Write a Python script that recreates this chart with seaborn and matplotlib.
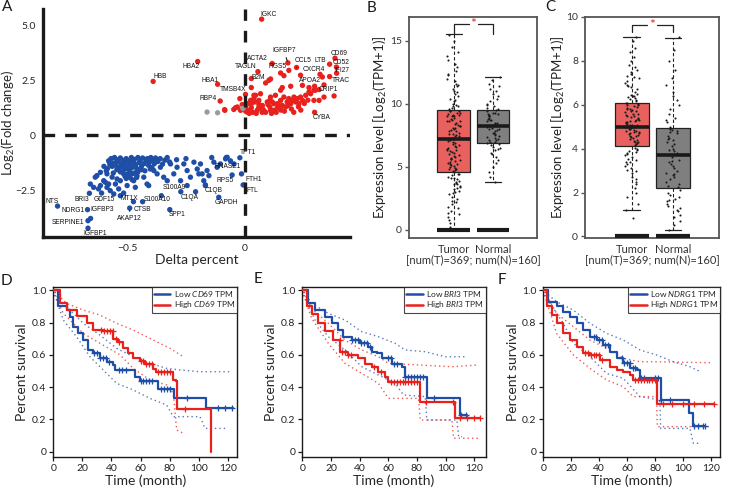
import numpy as np
import pandas as pd
import matplotlib
matplotlib.use("Agg")
import matplotlib.pyplot as plt
from matplotlib.lines import Line2D
import seaborn as sns

# ---------------- Panel A data ----------------
up_genes = ["IGKC", "HBB", "HBA2", "HBA1", "TMSB4X", "RBP4", "TAGLN", "ACTA2", "B2M", "IGFBP7", "RGS5",
            "CCL5", "CXCR4", "LTB", "CD69", "CD52", "IFI27", "TRAC", "APOA2", "CRIP1", "CYBA"]
up_x = [0.073, -0.39, -0.20, -0.115, 0.004, -0.104, 0.057, 0.118, 0.111, 0.185, 0.189,
        0.222, 0.322, 0.363, 0.386, 0.392, 0.393, 0.363, 0.299, 0.302, 0.299]
up_y = [5.27, 2.45, 3.35, 2.32, 1.86, 1.56, 2.89, 3.26, 2.56, 3.29, 2.95,
        3.08, 2.77, 3.23, 3.50, 3.10, 2.82, 2.67, 2.23, 2.05, 1.05]

down_genes = ["NTS", "BRI3", "GDF15", "NDRG1", "IGFBP3", "SERPINE1", "IGFBP1", "MT1X", "CTSB", "AKAP12",
              "S100A10", "S100A9", "SPP1", "C1QA", "C1QB", "GAPDH", "RNASE1", "RPS5", "FTH1", "FTL", "TPT1"]
down_x = [-0.798, -0.662, -0.610, -0.670, -0.657, -0.668, -0.668, -0.516, -0.474, -0.490,
          -0.435, -0.355, -0.319, -0.272, -0.167, -0.110, -0.078, -0.053, -0.013, -0.006, -0.020]
down_y = [-3.20, -2.62, -2.61, -3.36, -3.76, -3.86, -4.20, -2.61, -3.00, -3.29,
          -3.00, -2.73, -3.36, -2.55, -2.24, -2.80, -1.00, -1.79, -1.74, -2.24, -1.01]

red_x = [-0.038, 0.004, 0.018, 0.029, 0.040, 0.061, 0.076, 0.082, 0.097, 0.108, 0.118, 0.125, 0.140, 0.147,
         0.154, 0.161, 0.168, 0.175, 0.182, 0.189, 0.197, 0.204, 0.211, 0.218, 0.225, 0.232, 0.239, 0.247,
         0.261, 0.275, 0.282, 0.296, 0.318, 0.339, 0.382, 0.154, 0.168, 0.090, 0.104, 0.029, 0.154, 0.161,
         0.197, 0.239, 0.247, 0.275, 0.332, 0.339, 0.318, 0.047, 0.068, 0.111, 0.132, 0.296, 0.029, -0.085,
         -0.046, -0.020, -0.003, 0.011, 0.014, 0.029, 0.043, 0.054, 0.061, 0.076, 0.111, 0.125, 0.040, 0.108,
         -0.084, -0.031, -0.017, 0.020, 0.026, 0.050, 0.090, 0.135, 0.170, 0.200, 0.210, 0.060, 0.100, 0.140,
         0.185, 0.230, 0.255, 0.270, 0.005, -0.010, 0.035, 0.075, 0.115, 0.155, 0.240]
red_y = [1.26, 1.29, 1.14, 1.44, 1.67, 1.59, 1.36, 1.14, 1.52, 1.29, 1.52, 1.14, 1.44, 1.36,
         1.59, 1.36, 1.74, 1.29, 1.52, 1.67, 1.44, 1.59, 1.74, 1.52, 1.67, 1.44, 1.74, 1.59,
         1.82, 1.97, 1.89, 2.05, 1.59, 1.74, 1.79, 2.83, 2.71, 2.38, 2.50, 2.17, 2.05, 2.17,
         2.23, 2.73, 2.27, 2.17, 2.65, 2.29, 2.08, 1.82, 1.89, 1.74, 1.82, 1.59, 2.58, 1.17,
         1.18, 1.67, 1.26, 1.06, 1.44, 1.26, 1.52, 1.14, 1.41, 1.21, 1.14, 1.44, 1.82, 1.59,
         1.14, 1.29, 1.14, 1.00, 1.59, 1.00, 1.05, 1.05, 1.10, 1.20, 1.05, 1.25, 1.40, 1.25,
         1.35, 1.30, 1.45, 1.60, 1.10, 1.40, 1.05, 1.05, 1.00, 1.15, 1.15]

blue_x = [-0.630, -0.637, -0.601, -0.615, -0.594, -0.587, -0.573, -0.580, -0.551, -0.544, -0.530, -0.537,
          -0.501, -0.516, -0.473, -0.466, -0.416, -0.409, -0.387, -0.373, -0.359, -0.345, -0.330, -0.316,
          -0.302, -0.288, -0.259, -0.245, -0.231, -0.216, -0.202, -0.188, -0.181, -0.174, -0.160, -0.152,
          -0.131, -0.117, -0.103, -0.081, -0.074, -0.045, -0.658, -0.644, -0.623, -0.480, -0.459, -0.430,
          -0.402, -0.273, -0.245, -0.167, -0.195, -0.615, -0.587, -0.565, -0.558, -0.530,
          -0.580, -0.570, -0.560, -0.555, -0.550, -0.545, -0.540, -0.535, -0.530, -0.525, -0.520, -0.515,
          -0.510, -0.505, -0.500, -0.495, -0.490, -0.487, -0.483, -0.480, -0.475, -0.470, -0.465, -0.460,
          -0.455, -0.450, -0.445, -0.440, -0.435, -0.430, -0.425, -0.420, -0.415, -0.410, -0.405, -0.400,
          -0.395, -0.390, -0.385, -0.380, -0.370, -0.360, -0.350, -0.340, -0.330, -0.320, -0.530, -0.545,
          -0.560, -0.500, -0.510, -0.470, -0.490, -0.520, -0.500, -0.565, -0.575, -0.585, -0.600, -0.590,
          -0.480, -0.505, -0.460, -0.440, -0.455, -0.209, -0.250, -0.290, -0.140, -0.060]
blue_y = [-1.82, -1.89, -2.05, -2.27, -2.12, -2.35, -2.50, -2.20, -2.20, -1.97, -2.05, -2.42,
          -2.27, -1.74, -2.05, -2.35, -2.20, -2.27, -1.59, -1.74, -1.44, -1.89, -2.05, -1.29,
          -1.74, -1.44, -1.29, -1.59, -1.89, -1.21, -1.52, -1.29, -1.74, -2.05, -1.59, -1.82,
          -1.21, -1.44, -1.29, -1.06, -0.99, -1.29, -2.20, -2.35, -2.42, -1.74, -1.82, -1.89,
          -1.52, -2.05, -2.27, -2.27, -1.74, -1.67, -1.74, -1.89, -2.65, -2.73,
          -1.15, -1.05, -1.25, -1.00, -1.35, -1.10, -1.20, -1.45, -1.02, -1.30, -1.12, -1.55,
          -1.22, -1.05, -1.38, -1.15, -1.60, -1.28, -1.00, -1.45, -1.18, -1.08, -1.32, -1.50,
          -1.00, -1.22, -1.12, -1.40, -1.02, -1.28, -1.60, -1.15, -1.05, -1.35, -1.20, -1.00,
          -1.45, -1.10, -1.28, -1.02, -1.18, -1.05, -1.30, -1.12, -1.00, -1.20, -1.65, -1.55,
          -1.70, -1.75, -1.85, -1.70, -1.90, -1.42, -1.50, -1.40, -1.30, -1.50, -1.40, -1.60,
          -2.00, -1.95, -1.90, -1.55, -1.65, -2.55, -1.05, -1.10, -1.00, -1.15]

grey_x = [-0.160, -0.115, -0.007]
grey_y = [1.06, 1.03, 1.23]

# label placement (pixel offsets, alignment) - styling only
up_lab = {"IGKC": (-1, 5, "left"), "HBB": (0, 5, "left"), "HBA2": (2, -5, "right"), "HBA1": (1, 4, "right"),
          "TMSB4X": (1, 5, "right"), "RBP4": (-3, 3, "right"), "TAGLN": (-1, 5, "right"),
          "ACTA2": (-4, 5, "right"), "B2M": (-6, 1, "right"), "IGFBP7": (-4, 12, "center"),
          "RGS5": (-2, 4, "right"), "CCL5": (-2, 7, "left"), "CXCR4": (-6, 5, "center"),
          "LTB": (-3, 4, "right"), "CD69": (-4, 5, "left"), "CD52": (-4, 5, "left"), "IFI27": (-2, 3, "left"),
          "TRAC": (2, -4, "left"), "APOA2": (-5, 6, "center"), "CRIP1": (3, 1, "left"), "CYBA": (-2, -5, "left")}
down_lab = {"NTS": (1, 5, "right"), "BRI3": (0, -6, "right"), "GDF15": (3, -6, "center"),
            "NDRG1": (-3, -1, "right"), "IGFBP3": (0, 9, "left"), "SERPINE1": (-4, -2, "right"),
            "IGFBP1": (-5, -5, "left"), "MT1X": (-3, -5, "left"), "CTSB": (0, -8, "left"),
            "AKAP12": (0, -10, "center"), "S100A10": (1, 2, "left"), "S100A9": (1, 8, "left"),
            "SPP1": (-1, -5, "left"), "C1QA": (0, -6, "left"), "C1QB": (-1, -6, "left"),
            "GAPDH": (-4, -5, "left"), "RNASE1": (1, -9, "center"), "RPS5": (2, -6, "right"),
            "FTH1": (4, -6, "left"), "FTL": (3, -6, "left"), "TPT1": (0, 5, "left")}
leaders = {"IGFBP7", "CCL5", "AKAP12"}

# ---------------- Panels B, C data ----------------
groups = ["Tumor", "Normal"]
b_med = [7.20, 8.24]; b_q1 = [4.55, 6.86]; b_q3 = [9.50, 9.47]; b_lo = [0.0, 3.80]; b_hi = [15.56, 12.13]
c_med = [5.01, 3.70]; c_q1 = [4.10, 2.21]; c_q3 = [6.10, 4.94]; c_lo = [1.21, 0.29]; c_hi = [9.08, 9.05]

b_tumor = [0.2, 0.5, 0.8, 1.0, 1.3, 1.5, 1.8, 2.0, 2.2, 2.4, 2.6, 2.8, 3.0, 3.1, 3.3, 3.4, 3.6, 3.7, 3.8, 3.9,
           4.0, 4.1, 4.2, 4.3, 4.4, 4.6, 4.7, 4.8, 4.9, 5.0, 5.1, 5.2, 5.3, 5.4, 5.5, 5.6, 5.7, 5.8, 5.9, 6.0,
           6.1, 6.2, 6.3, 6.4, 6.5, 6.6, 6.7, 6.8, 6.9, 7.1, 7.3, 7.4, 7.5, 7.6, 7.7, 7.8, 7.9, 8.0, 8.1, 8.2,
           8.3, 8.4, 8.5, 8.6, 8.7, 8.8, 8.9, 9.0, 9.1, 9.2, 9.3, 9.4, 9.4, 9.3, 9.1, 9.6, 9.7, 9.8, 9.9, 10.0,
           10.2, 10.4, 10.6, 10.8, 11.0, 11.2, 11.4, 11.6, 11.8, 12.0, 12.3, 12.6, 12.9, 13.2, 13.5, 13.8,
           14.1, 14.5, 15.0, 15.5, 5.2, 5.6, 6.3, 7.0, 7.6, 8.1, 8.6, 9.0, 4.8, 3.5,
           4.65, 5.05, 5.45, 5.85, 6.25, 6.65, 7.05, 7.45, 7.85, 8.25, 8.65, 9.05, 9.45, 9.85, 10.3, 10.9,
           2.9, 3.2, 3.6, 4.1, 4.45, 1.2, 1.7, 2.3, 11.5, 12.4]
b_normal = [3.8, 4.2, 4.6, 5.0, 5.3, 5.5, 5.8, 6.0, 6.1, 6.3, 6.4, 6.5, 6.6, 6.7, 6.8, 6.9, 7.0, 7.1, 7.2, 7.3,
            7.4, 7.5, 7.6, 7.7, 7.8, 7.9, 8.0, 8.0, 8.1, 8.2, 8.3, 8.4, 8.5, 8.6, 8.7, 8.8, 8.9, 9.0, 9.0, 9.1,
            9.2, 9.3, 9.3, 9.4, 9.5, 9.6, 9.7, 9.8, 9.9, 10.0, 10.2, 10.4, 10.6, 10.8, 11.0, 11.2, 11.4, 11.6,
            11.9, 12.1, 7.15, 7.65, 8.15, 8.45, 8.75, 9.15, 6.95, 7.35]
c_tumor = [0.85, 1.2, 1.5, 1.8, 2.0, 2.2, 2.4, 2.6, 2.7, 2.9, 3.0, 3.1, 3.2, 3.3, 3.4, 3.5, 3.6, 3.7, 3.75, 3.8,
           3.85, 3.9, 3.95, 4.0, 4.05, 4.15, 4.2, 4.25, 4.3, 4.35, 4.4, 4.45, 4.5, 4.55, 4.6, 4.65, 4.7, 4.72,
           4.75, 4.8, 4.82, 4.85, 4.88, 4.9, 4.92, 4.95, 4.97, 5.0, 5.02, 5.04, 5.07, 5.1, 5.13, 5.16, 5.2,
           5.24, 5.28, 5.32, 5.36, 5.4, 5.45, 5.5, 5.55, 5.6, 5.65, 5.7, 5.75, 5.8, 5.85, 5.9, 5.95, 6.0, 6.03,
           6.06, 6.09, 6.15, 6.2, 6.25, 6.3, 6.35, 6.4, 6.5, 6.6, 6.7, 6.8, 6.9, 7.0, 7.1, 7.2, 7.3, 7.4, 7.5,
           7.6, 7.8, 8.0, 8.2, 8.4, 8.6, 8.9, 9.1, 5.3, 5.8, 4.6, 5.1, 6.4, 3.4,
           4.32, 4.62, 4.98, 5.22, 5.48, 5.72, 5.98, 6.45, 6.85, 7.25, 7.7, 3.55, 3.05, 2.5, 4.78, 5.58]
c_normal = [0.3, 0.5, 0.7, 0.9, 1.0, 1.2, 1.3, 1.4, 1.5, 1.6, 1.7, 1.8, 1.9, 2.0, 2.1, 2.3, 2.4, 2.5, 2.6, 2.7,
            2.8, 2.9, 3.0, 3.1, 3.2, 3.3, 3.4, 3.5, 3.6, 3.7, 3.8, 3.9, 4.0, 4.1, 4.2, 4.3, 4.4, 4.5, 4.6, 4.7,
            4.75, 4.8, 4.85, 4.9, 4.95, 5.0, 5.2, 5.4, 5.6, 5.8, 6.0, 6.2, 6.4, 6.6, 6.9, 7.2, 7.6, 8.0, 8.5, 9.1,
            2.25, 2.85, 3.45, 3.95, 4.45, 1.15, 1.65, 5.3]

# ---------------- Panels D, E, F data (Kaplan-Meier) ----------------
D_low_t = [0, 3.4, 9.2, 11.5, 13.8, 17.2, 20.6, 24, 27.5, 32, 36.7, 41.3, 42.4, 56.2, 59.6, 72.2, 83, 104.8, 123.9]
D_low_s = [1.0, 0.90, 0.88, 0.835, 0.775, 0.735, 0.69, 0.63, 0.61, 0.58, 0.555, 0.535, 0.505, 0.465, 0.435, 0.39, 0.33, 0.268, 0.268]
D_high_t = [0, 4.6, 9.2, 16, 23, 27.5, 34.4, 41.3, 44.7, 48.2, 51.6, 55, 59.6, 63, 68.8, 71, 82.6, 84.4, 84.9, 108.3]
D_high_s = [1.0, 0.92, 0.88, 0.84, 0.80, 0.755, 0.745, 0.70, 0.68, 0.64, 0.61, 0.58, 0.56, 0.54, 0.515, 0.495, 0.445, 0.435, 0.262, 0.0]
D_low_cens = [28, 30, 32, 34, 36, 38, 45, 47, 50, 60, 62, 64, 66, 68, 74, 76, 78, 80, 91.7, 113.5, 118, 122.7]
D_high_cens = [33, 35, 37, 39, 41, 43, 45, 60, 62, 64, 66, 68, 72, 74, 76, 78, 80, 90.6]
D_low_up_t = [1, 4.6, 13.8, 20.6, 32.1, 43.6, 55, 66.5, 78, 87.2, 100.9, 121.6]
D_low_up_s = [0.99, 0.93, 0.857, 0.795, 0.722, 0.64, 0.588, 0.547, 0.516, 0.506, 0.495, 0.495]
D_low_lo_t = [1, 6.9, 16, 25.2, 32.1, 43.6, 55, 66.5, 78, 82.6, 100.9, 104.4, 119.3]
D_low_lo_s = [0.97, 0.815, 0.712, 0.588, 0.526, 0.423, 0.382, 0.33, 0.289, 0.217, 0.217, 0.144, 0.144]
D_high_up_t = [1, 9.2, 20.6, 32.1, 43.6, 55, 66.5, 80.3, 89.4]
D_high_up_s = [0.99, 0.918, 0.877, 0.846, 0.795, 0.753, 0.702, 0.64, 0.588]
D_high_lo_t = [1, 6.9, 20.6, 32.1, 45.9, 55, 66.5, 78, 82.6, 84.9, 89.4]
D_high_lo_s = [0.97, 0.857, 0.733, 0.671, 0.60, 0.516, 0.444, 0.413, 0.361, 0.134, 0.114]

E_low_t = [0, 4.2, 8.9, 15.9, 20.5, 25.2, 28.7, 34.5, 40.3, 46.2, 48.5, 52, 55.5, 62.5, 69.5, 71.8, 86.9, 110.3, 115]
E_low_s = [1.0, 0.92, 0.88, 0.835, 0.795, 0.755, 0.71, 0.69, 0.67, 0.65, 0.62, 0.61, 0.58, 0.545, 0.525, 0.465, 0.33, 0.225, 0.215]
E_high_t = [0, 3, 6.5, 11.2, 15.9, 21.7, 26.3, 32, 39, 43.8, 48.5, 53.1, 57.8, 60.1, 82.3, 106.3, 124.2]
E_high_s = [1.0, 0.90, 0.855, 0.795, 0.745, 0.69, 0.62, 0.60, 0.58, 0.545, 0.525, 0.495, 0.465, 0.433, 0.31, 0.206, 0.206]
E_low_cens = [35, 37, 39, 41, 43, 45, 47, 60, 62, 64, 66, 72, 74, 76, 78, 80, 82, 84, 92, 111, 114]
E_high_cens = [26, 28, 30, 32, 34, 50, 55, 62, 64, 66, 68, 70, 72, 74, 76, 78, 80, 86, 105, 110, 115, 120, 124]
E_low_up_t = [1, 6.5, 18.2, 29.8, 41.5, 53.1, 64.8, 71.8, 85.8, 99.8, 113.8]
E_low_up_s = [0.99, 0.918, 0.857, 0.815, 0.743, 0.712, 0.671, 0.63, 0.619, 0.588, 0.588]
E_low_lo_t = [1, 8.9, 18.2, 29.8, 41.5, 53.1, 64.8, 70.6, 85.8, 86.9, 107.9, 109.1, 111.4]
E_low_lo_s = [0.97, 0.815, 0.712, 0.63, 0.526, 0.475, 0.423, 0.351, 0.341, 0.196, 0.196, 0.093, 0.093]
E_high_up_t = [1, 6.5, 18.2, 29.8, 41.5, 53.1, 60.1, 81.1, 104.4, 123]
E_high_up_s = [0.99, 0.887, 0.795, 0.691, 0.63, 0.588, 0.547, 0.537, 0.526, 0.537]
E_high_lo_t = [1, 6.5, 18.2, 29.8, 41.5, 53.1, 60.1, 81.1, 82.3, 104.4, 105.6, 123]
E_high_lo_s = [0.97, 0.826, 0.671, 0.547, 0.485, 0.423, 0.33, 0.33, 0.196, 0.196, 0.083, 0.083]

F_low_t = [0, 3.6, 9.5, 14.3, 19.1, 23.9, 28.6, 33.4, 38.2, 43, 47.7, 52.5, 57.3, 62.1, 66.8, 69.2, 84, 104.3, 107.4, 115.8]
F_low_s = [1.0, 0.93, 0.90, 0.867, 0.836, 0.795, 0.753, 0.712, 0.691, 0.66, 0.619, 0.578, 0.547, 0.516, 0.506, 0.454, 0.32, 0.237, 0.159, 0.159]
F_high_t = [0, 2.4, 6, 9.5, 14.3, 19.1, 23.9, 28.6, 33.4, 40.6, 47.7, 52.5, 57.3, 62.1, 64.4, 81.6, 122.2]
F_high_s = [1.0, 0.90, 0.846, 0.795, 0.733, 0.691, 0.65, 0.609, 0.599, 0.568, 0.526, 0.506, 0.495, 0.475, 0.444, 0.293, 0.293]
F_low_cens = [36, 38, 40, 42, 44, 46, 56, 58, 60, 62, 64, 66, 70, 72, 80, 82, 84, 91, 108, 111, 114, 115.8]
F_high_cens = [30, 32, 34, 36, 38, 40, 42, 66, 68, 70, 72, 74, 76, 78, 80, 86, 92, 100, 108, 115, 122]
F_low_up_t = [1, 9.5, 21.5, 33.4, 45.3, 57.3, 69.2, 81.1, 93.1, 105, 112.6]
F_low_up_s = [0.99, 0.929, 0.877, 0.795, 0.733, 0.691, 0.63, 0.599, 0.557, 0.526, 0.495]
F_low_lo_t = [1, 14.3, 21.5, 33.4, 45.3, 57.3, 69.2, 83.5, 84, 105, 107.4, 112.2]
F_low_lo_s = [0.97, 0.795, 0.671, 0.588, 0.485, 0.454, 0.341, 0.32, 0.144, 0.144, 0.052, 0.052]
F_high_up_t = [1, 9.5, 21.5, 33.4, 45.3, 57.3, 69.2, 81.1, 119.3]
F_high_up_s = [0.99, 0.857, 0.774, 0.691, 0.64, 0.578, 0.557, 0.557, 0.551]
F_high_lo_t = [1, 9.5, 21.5, 33.4, 45.3, 57.3, 64.4, 81.1, 81.6, 119.3]
F_high_lo_s = [0.97, 0.733, 0.599, 0.516, 0.444, 0.402, 0.341, 0.341, 0.155, 0.155]

# ---------------- styling ----------------
RED = "#e8211d"
BLUE = "#1f4ea6"
GREY = "#9c9c9c"
TUMOR_FILL = "#e8615f"
NORMAL_FILL = "#7f7f7f"

sns.set_theme(style="white")
plt.rcParams["font.family"] = ["Lato", "DejaVu Sans"]
plt.rcParams["mathtext.fontset"] = "custom"
plt.rcParams["mathtext.rm"] = "Lato"
plt.rcParams["mathtext.it"] = "Lato:italic"
plt.rcParams["axes.unicode_minus"] = True

W, H = 735, 488
fig = plt.figure(figsize=(W / 100, H / 100), dpi=100)


def fax(l, t, r, b):
    return fig.add_axes([l / W, 1 - b / H, (r - l) / W, (b - t) / H])


# ---------------- Panel A ----------------
axA = fax(43, 9, 350, 237)
dfA = pd.concat([
    pd.DataFrame({"x": up_x + red_x, "y": up_y + red_y, "grp": "up"}),
    pd.DataFrame({"x": down_x + blue_x, "y": down_y + blue_y, "grp": "down"}),
    pd.DataFrame({"x": grey_x, "y": grey_y, "grp": "ns"}),
], ignore_index=True)
sns.scatterplot(data=dfA, x="x", y="y", hue="grp", palette={"up": RED, "down": BLUE, "ns": GREY},
                s=15, linewidth=0, legend=False, ax=axA, zorder=3)
axA.axhline(0, color="k", lw=2.4, ls=(0, (3.5, 3)), zorder=4)
axA.axvline(0, color="k", lw=2.4, ls=(0, (3.5, 3)), zorder=4)

for genes, xs, ys, labs in [(up_genes, up_x, up_y, up_lab), (down_genes, down_x, down_y, down_lab)]:
    for g, x, y in zip(genes, xs, ys):
        dx, dy, ha = labs[g]
        kw = {}
        if g in leaders:
            kw["arrowprops"] = dict(arrowstyle="-", lw=0.8, color="k", shrinkA=0, shrinkB=1.5)
        axA.annotate(g, (x, y), xytext=(dx, dy), textcoords="offset pixels", ha=ha, va="center",
                     fontsize=4.8, family=["Liberation Sans"], color="#111", zorder=5, **kw)

axA.set_xlim(-0.86, 0.45)
axA.set_ylim(-4.6, 5.73)
axA.set_xticks([-0.5, 0])
axA.set_xticklabels(["\u22120.5", "0"])
axA.set_yticks([-2.5, 0, 2.5, 5.0])
axA.set_yticklabels(["\u22122.5", "0", "2.5", "5.0"])
for s in ["top", "right"]:
    axA.spines[s].set_visible(False)
for s in ["left", "bottom"]:
    axA.spines[s].set_linewidth(2.4)
    axA.spines[s].set_color("k")
axA.tick_params(direction="inout", length=6, width=2, labelsize=7.5, pad=2, color="k")
axA.set_xlabel("Delta percent", fontsize=10, labelpad=1)
axA.set_ylabel(r"Log$_2$(Fold change)", fontsize=9.5)
axA.yaxis.set_label_coords(-0.085, 0.5)


# ---------------- Panels B, C ----------------
def box_panel(ax, med, q1, q3, lo, hi, tumor_vals, normal_vals, yticks, ylim, top, leg, ylab_x):
    df = pd.concat([pd.DataFrame({"grp": "Tumor", "val": tumor_vals}),
                    pd.DataFrame({"grp": "Normal", "val": normal_vals})], ignore_index=True)
    stats = [dict(med=med[i], q1=q1[i], q3=q3[i], whislo=lo[i], whishi=hi[i], label=groups[i]) for i in range(2)]
    res = ax.bxp(stats, positions=[0, 1], widths=0.82, patch_artist=True, showfliers=False,
                 manage_ticks=False, capwidths=0.4,
                 boxprops=dict(edgecolor="#222", lw=0.9),
                 whiskerprops=dict(ls=(0, (3, 2)), lw=0.8, color="#222"),
                 capprops=dict(lw=0.9, color="#222"),
                 medianprops=dict(lw=2.6, color="k"), zorder=1)
    for b, c in zip(res["boxes"], [TUMOR_FILL, NORMAL_FILL]):
        b.set_facecolor(c)
    sns.stripplot(data=df, x="grp", y="val", order=groups, color="k", size=1.5, jitter=0.17,
                  ax=ax, zorder=3)
    for p in [0, 1]:
        ax.hlines(0, p - 0.41, p + 0.41, lw=3, color="k", zorder=4)
    ax.plot([0, 0, 0.38], [leg, top, top], color="#222", lw=0.9)
    ax.plot([0.62, 1, 1], [top, top, leg], color="#222", lw=0.9)
    ax.text(0.5, top, "*", color=RED, ha="center", va="center", fontsize=10)
    ax.set_xlim(-1.13, 2.11)
    ax.set_ylim(*ylim)
    ax.set_yticks(yticks)
    ax.set_yticklabels([str(v) for v in yticks])
    ax.set_xlabel("")
    ax.set_ylabel(r"Expression level [Log$_2$(TPM+1)]", fontsize=9.5, color="#222")
    ax.yaxis.set_label_coords(ylab_x, 0.5)
    for s in ax.spines.values():
        s.set_color("#555")
        s.set_linewidth(1.3)
    ax.tick_params(axis="y", direction="out", length=3, width=1, color="#555", labelsize=7.5,
                   labelcolor="#333", pad=2, left=True)
    ax.tick_params(axis="x", length=0, labelsize=8, labelcolor="#333", pad=4)
    ax.text(0.5, -0.098, "[num(T)=369; num(N)=160]", transform=ax.transAxes, ha="center", va="center",
            fontsize=8, color="#333")


axB = fax(409, 17, 537, 238)
box_panel(axB, b_med, b_q1, b_q3, b_lo, b_hi, b_tumor, b_normal, [0, 5, 10, 15], (-0.67, 16.9), 16.36, 15.56,
          -0.155)
axC = fax(585, 17, 719, 238)
box_panel(axC, c_med, c_q1, c_q3, c_lo, c_hi, c_tumor, c_normal, [0, 2, 4, 6, 8, 10], (-0.07, 10.0), 9.62, 9.3,
          -0.135)


# ---------------- Panels D, E, F ----------------
def step_at(t, s, times):
    t = np.asarray(t); s = np.asarray(s)
    idx = np.searchsorted(t, np.asarray(times), side="right") - 1
    return s[np.clip(idx, 0, len(s) - 1)]


def km_panel(ax, gene, lt, ls_, ht, hs, lc, hc, cis, xmax):
    for (t, s), col in zip(cis, [BLUE, BLUE, RED, RED]):
        ax.plot(t, s, color=col, ls=(0, (1, 2.2)), lw=1.0, alpha=0.75, zorder=2)
    for t, s, c, col in [(lt, ls_, lc, BLUE), (ht, hs, hc, RED)]:
        sns.lineplot(x=t, y=s, estimator=None, sort=False, drawstyle="steps-post", color=col, lw=1.6,
                     ax=ax, zorder=3)
        ax.plot(c, step_at(t, s, c), ls="none", marker="+", ms=4.5, mew=0.9, color=col, zorder=4)
    ax.set_xlim(0, xmax)
    ax.set_ylim(-0.035, 1.02)
    ax.set_xticks([0, 20, 40, 60, 80, 100, 120])
    ax.set_yticks([0, 0.2, 0.4, 0.6, 0.8, 1.0])
    ax.set_yticklabels(["0", "0.2", "0.4", "0.6", "0.8", "1.0"])
    for s in ax.spines.values():
        s.set_color("k")
        s.set_linewidth(1.0)
    ax.tick_params(direction="out", length=3, width=0.9, color="k", labelsize=7.5, pad=2,
                   left=True, bottom=True, labelcolor="#222")
    ax.set_xlabel("Time (month)", fontsize=10, labelpad=1)
    ax.set_ylabel("Percent survival", fontsize=10)
    ax.yaxis.set_label_coords(-0.14, 0.5)
    handles = [Line2D([], [], color=BLUE, lw=1.8), Line2D([], [], color=RED, lw=1.8)]
    lg = ax.legend(handles, [r"Low $\it{%s}$ TPM" % gene, r"High $\it{%s}$ TPM" % gene], loc="upper right",
                   fontsize=6.0, frameon=True, fancybox=False, edgecolor="k", borderpad=0.25,
                   labelspacing=0.05, handlelength=2.0, handletextpad=0.4, borderaxespad=0.0)
    lg.get_frame().set_linewidth(0.8)


axD = fax(53.3, 287, 237.3, 457.3)
km_panel(axD, "CD69", D_low_t, D_low_s, D_high_t, D_high_s, D_low_cens, D_high_cens,
         [(D_low_up_t, D_low_up_s), (D_low_lo_t, D_low_lo_s), (D_high_up_t, D_high_up_s), (D_high_lo_t, D_high_lo_s)],
         126.6)
axE = fax(302.3, 287, 485.7, 457.3)
km_panel(axE, "BRI3", E_low_t, E_low_s, E_high_t, E_high_s, E_low_cens, E_high_cens,
         [(E_low_up_t, E_low_up_s), (E_low_lo_t, E_low_lo_s), (E_high_up_t, E_high_up_s), (E_high_lo_t, E_high_lo_s)],
         128.0)
axF = fax(543.3, 287, 720, 457.3)
km_panel(axF, "NDRG1", F_low_t, F_low_s, F_high_t, F_high_s, F_low_cens, F_high_cens,
         [(F_low_up_t, F_low_up_s), (F_low_lo_t, F_low_lo_s), (F_high_up_t, F_high_up_s), (F_high_lo_t, F_high_lo_s)],
         126.5)

# panel letters
for letter, (px, py) in zip("ABCDEF", [(7, 7), (371, 8), (550, 7), (6, 281), (258, 279), (502, 280)]):
    fig.text(px / W, 1 - py / H, letter, fontsize=11, ha="center", va="center", color="k")

fig.savefig("out.png", dpi=100)
